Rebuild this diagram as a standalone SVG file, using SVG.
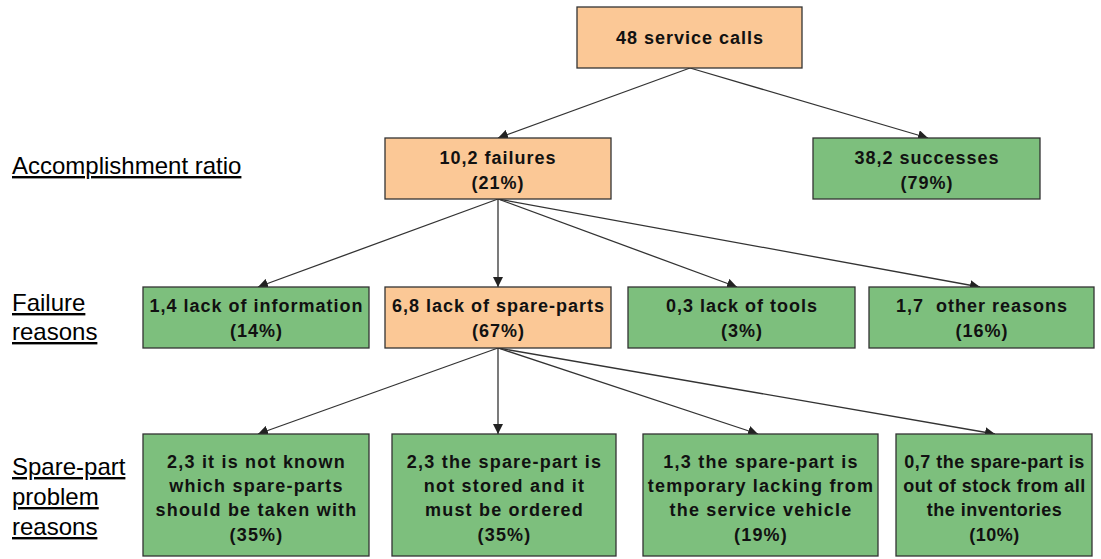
<svg xmlns="http://www.w3.org/2000/svg" width="1101" height="559" viewBox="0 0 1101 559">
<defs>
<marker id="ah" viewBox="0 0 10 10" refX="10" refY="5" markerWidth="10" markerHeight="10" markerUnits="userSpaceOnUse" orient="auto">
<path d="M0,0 L10,5 L0,10 z" fill="#222"/>
</marker>
<style>
.o{fill:#FBC896;stroke:#333;stroke-width:1.3}
.g{fill:#7DBF7D;stroke:#333;stroke-width:1.3}
.t{font-family:"Liberation Sans",Arial,sans-serif;font-size:18px;font-weight:bold;letter-spacing:1px;fill:#111;text-anchor:middle}
.s{font-family:"Liberation Sans",Arial,sans-serif;font-size:18px;font-weight:bold;letter-spacing:1.2px;fill:#111;text-anchor:middle}
.n{letter-spacing:0.5px}
.l{font-family:"Liberation Sans",Arial,sans-serif;font-size:24px;fill:#000;text-decoration:underline}
.c{stroke:#333;stroke-width:1.3;fill:none;marker-end:url(#ah)}
</style>
</defs>
<rect width="1101" height="559" fill="#fff"/>
<g id="labels">
<text class="l" x="12" y="174">Accomplishment ratio</text>
<text class="l" x="12" y="311">Failure</text>
<text class="l" x="12" y="340">reasons</text>
<text class="l" x="12" y="475">Spare-part</text>
<text class="l" x="12" y="505">problem</text>
<text class="l" x="12" y="535">reasons</text>
</g>
<g id="connectors">
<line class="c" x1="690" y1="68" x2="498" y2="138"/>
<line class="c" x1="690" y1="68" x2="928" y2="138"/>
<line class="c" x1="498" y1="199" x2="258" y2="287"/>
<line class="c" x1="498" y1="199" x2="498" y2="287"/>
<line class="c" x1="498" y1="199" x2="737" y2="287"/>
<line class="c" x1="498" y1="199" x2="980" y2="287"/>
<line class="c" x1="498" y1="348" x2="258" y2="434"/>
<line class="c" x1="498" y1="348" x2="498" y2="434"/>
<line class="c" x1="498" y1="348" x2="758" y2="434"/>
<line class="c" x1="498" y1="348" x2="995" y2="434"/>
</g>
<g id="n-calls"><rect class="o" x="577" y="7" width="225" height="61"/><text class="t" x="690" y="44">48 service calls</text></g>
<g id="n-failures"><rect class="o" x="385" y="138" width="226" height="61"/><text class="t" x="498" y="164">10,2 failures</text><text class="t" x="498" y="189">(21%)</text></g>
<g id="n-successes"><rect class="g" x="813" y="138" width="227" height="61"/><text class="t" x="927" y="164">38,2 successes</text><text class="t" x="927" y="189">(79%)</text></g>
<g id="n-info"><rect class="g" x="143" y="287" width="226" height="61"/><text class="t" x="256.5" y="312">1,4 lack of information</text><text class="t" x="256.5" y="337">(14%)</text></g>
<g id="n-spare"><rect class="o" x="385" y="287" width="226" height="61"/><text class="t" x="498.5" y="312">6,8 lack of spare-parts</text><text class="t" x="498.5" y="337">(67%)</text></g>
<g id="n-tools"><rect class="g" x="628" y="287" width="227" height="61"/><text class="t" x="742" y="312">0,3 lack of tools</text><text class="t" x="742" y="337">(3%)</text></g>
<g id="n-other"><rect class="g" x="869" y="287" width="225" height="61"/><text class="t" x="982" y="312">1,7&#160; other reasons</text><text class="t" x="982" y="337">(16%)</text></g>
<g id="n-known"><rect class="g" x="143" y="434" width="226" height="122"/><text class="s" x="256.5" y="468">2,3 it is not known</text><text class="s" x="256.5" y="492">which spare-parts</text><text class="s" x="256.5" y="516">should be taken with</text><text class="s" x="256.5" y="541">(35%)</text></g>
<g id="n-stored"><rect class="g" x="392" y="434" width="224" height="122"/><text class="s" x="504.5" y="468">2,3 the spare-part is</text><text class="s" x="504.5" y="492">not stored and it</text><text class="s" x="504.5" y="516">must be ordered</text><text class="s" x="504.5" y="541">(35%)</text></g>
<g id="n-vehicle"><rect class="g" x="643" y="434" width="235" height="122"/><text class="s" x="761" y="468">1,3 the spare-part is</text><text class="s" x="761" y="492">temporary lacking from</text><text class="s" x="761" y="516">the service vehicle</text><text class="s" x="761" y="541">(19%)</text></g>
<g id="n-stock"><rect class="g" x="896" y="434" width="196" height="122"/><text class="s n" x="994.5" y="468">0,7 the spare-part is</text><text class="s n" x="994.5" y="492">out of stock from all</text><text class="s n" x="994.5" y="516">the inventories</text><text class="s n" x="994.5" y="541">(10%)</text></g>
</svg>
